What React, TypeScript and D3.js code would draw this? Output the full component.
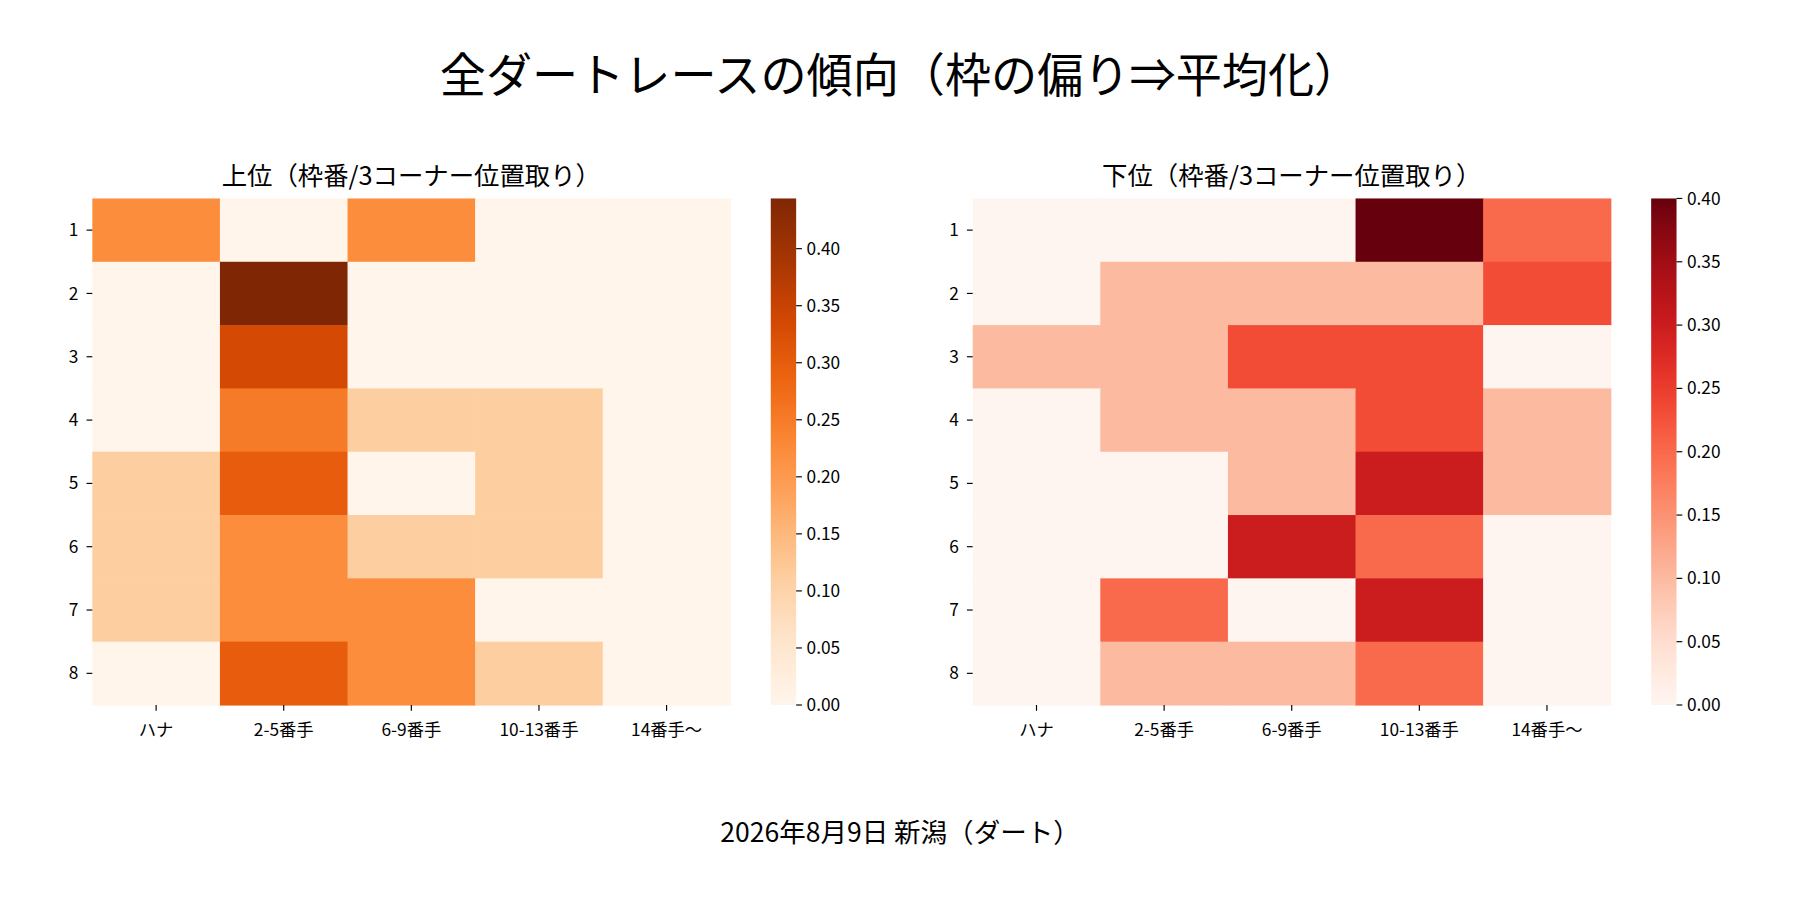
import React from 'react';
import * as d3 from 'd3';

const cols = ['ハナ', '2-5番手', '6-9番手', '10-13番手', '14番手〜'];
const rows = ['1', '2', '3', '4', '5', '6', '7', '8'];

const topValues = [
  [0.222, 0, 0.222, 0, 0],
  [0, 0.444, 0, 0, 0],
  [0, 0.333, 0, 0, 0],
  [0, 0.25, 0.111, 0.111, 0],
  [0.111, 0.3, 0, 0.111, 0],
  [0.111, 0.222, 0.111, 0.111, 0],
  [0.111, 0.222, 0.222, 0, 0],
  [0, 0.3, 0.222, 0.111, 0],
];

const bottomValues = [
  [0, 0, 0, 0.4, 0.2],
  [0, 0.1, 0.1, 0.1, 0.233],
  [0.1, 0.1, 0.233, 0.233, 0],
  [0, 0.1, 0.1, 0.233, 0.1],
  [0, 0, 0.1, 0.3, 0.1],
  [0, 0, 0.3, 0.2, 0],
  [0, 0.2, 0, 0.3, 0],
  [0, 0.1, 0.1, 0.2, 0],
];

const topTicks = [0, 0.05, 0.1, 0.15, 0.2, 0.25, 0.3, 0.35, 0.4];
const bottomTicks = [0, 0.05, 0.1, 0.15, 0.2, 0.25, 0.3, 0.35, 0.4];

const FONT = '"Noto Sans CJK JP", "Noto Sans", sans-serif';

interface HeatProps {
  id: string;
  x0: number;
  title: string;
  values: number[][];
  max: number;
  ticks: number[];
  interp: (t: number) => string;
}

const Heat: React.FC<HeatProps> = ({ id, x0, title, values, max, ticks, interp }) => {
  const w = 553, h = 439, top = 172;
  const xs = d3.scaleBand().domain(cols).range([x0, x0 + w]);
  const ys = d3.scaleBand().domain(rows).range([top, top + h]);
  const color = d3.scaleSequential(interp).domain([0, max]);
  const cbX = x0 + w + 35, cbW = 22;
  const cy = d3.scaleLinear().domain([0, max]).range([top + h, top]);
  const stops = d3.range(0, 1.0001, 0.05);
  return (
    <g>
      <defs>
        <linearGradient id={id} x1="0" y1="1" x2="0" y2="0">
          {stops.map(s => <stop key={s} offset={s} stopColor={color(s * max)} />)}
        </linearGradient>
      </defs>
      <text x={x0 + w / 2} y={160} textAnchor="middle" fontSize={22} fontFamily={FONT}>{title}</text>
      {values.map((r, i) => r.map((v, j) => (
        <rect key={`${i}-${j}`} x={xs(cols[j])} y={ys(rows[i])} width={xs.bandwidth() + 0.5}
          height={ys.bandwidth() + 0.5} fill={color(v)} />
      )))}
      {rows.map(r => (
        <g key={r} transform={`translate(${x0},${ys(r)! + ys.bandwidth() / 2})`}>
          <line x1={0} x2={-5} stroke="#000" />
          <text x={-12} dy="0.35em" textAnchor="end" fontSize={15} fontFamily={FONT}>{r}</text>
        </g>
      ))}
      {cols.map(c => (
        <g key={c} transform={`translate(${xs(c)! + xs.bandwidth() / 2},${top + h})`}>
          <line y1={0} y2={5} stroke="#000" />
          <text y={27} textAnchor="middle" fontSize={15} fontFamily={FONT}>{c}</text>
        </g>
      ))}
      <rect x={cbX} y={top} width={cbW} height={h} fill={`url(#${id})`} />
      {ticks.map(t => (
        <g key={t} transform={`translate(${cbX + cbW},${cy(t)})`}>
          <line x1={0} x2={5} stroke="#000" />
          <text x={9} dy="0.35em" fontSize={15} fontFamily={FONT}>{t.toFixed(2)}</text>
        </g>
      ))}
    </g>
  );
};

export default function App() {
  return (
    <div style={{ position: 'fixed', left: 0, top: 0, background: '#fff' }}>
      <svg width={1800} height={900} viewBox="0 0 1560 780">
        <rect width={1560} height={780} fill="#fff" />
        <text x={780} y={80} textAnchor="middle" fontSize={40} fontFamily={FONT}>
          全ダートレースの傾向（枠の偏り⇒平均化）
        </text>
        <Heat id="gTop" x0={80} title="上位（枠番/3コーナー位置取り）" values={topValues}
          max={0.444} ticks={topTicks} interp={d3.interpolateOranges} />
        <Heat id="gBot" x0={843} title="下位（枠番/3コーナー位置取り）" values={bottomValues}
          max={0.4} ticks={bottomTicks} interp={d3.interpolateReds} />
        <text x={780} y={730} textAnchor="middle" fontSize={23} fontFamily={FONT}>
          2026年8月9日 新潟（ダート）
        </text>
      </svg>
    </div>
  );
}
